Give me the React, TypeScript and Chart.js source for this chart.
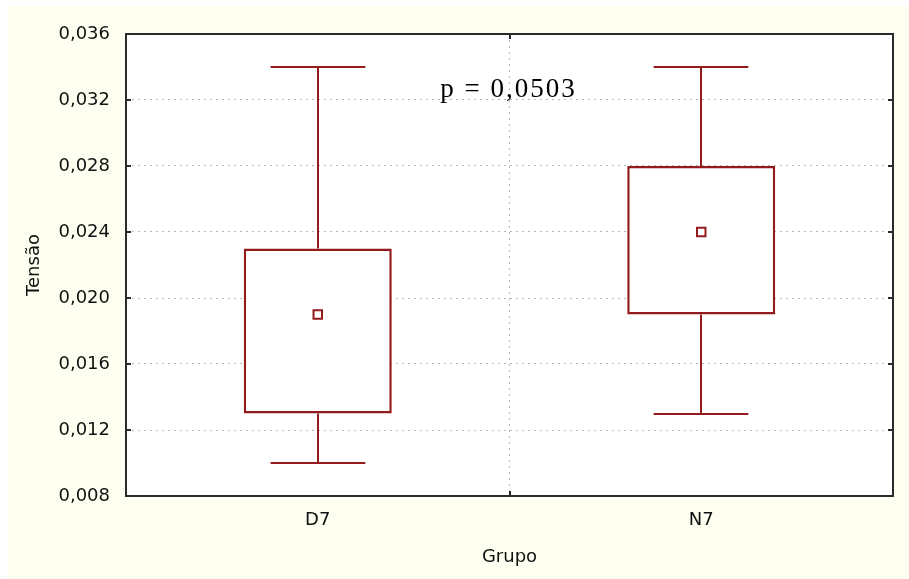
import React, { useEffect, useRef } from "react";
import { Chart, registerables } from "chart.js";

Chart.register(...registerables);

const categories = ["D7", "N7"];
const whiskerMin = [0.010, 0.013];
const boxLow = [0.013, 0.019];
const boxHigh = [0.023, 0.028];
const whiskerMax = [0.034, 0.034];
const means = [0.019, 0.024];
const yTicks = [0.008, 0.012, 0.016, 0.020, 0.024, 0.028, 0.032, 0.036];
const annotationText = "p = 0,0503";
const annotationY = 0.0322;

const RED = "#931a1d";

const boxPlugin = {
  id: "boxPlugin",
  beforeDraw(chart: any) {
    const { ctx, chartArea: a } = chart;
    ctx.save();
    ctx.fillStyle = "#fffff1";
    ctx.fillRect(0, 0, chart.width, chart.height);
    ctx.fillStyle = "#ffffff";
    ctx.fillRect(a.left, a.top, a.right - a.left, a.bottom - a.top);
    ctx.restore();
  },
  afterDatasetsDraw(chart: any) {
    const { ctx } = chart;
    const xs = chart.scales.x;
    const ys = chart.scales.y;
    const meta = chart.getDatasetMeta(0);
    ctx.save();
    ctx.strokeStyle = RED;
    ctx.lineWidth = 2;
    categories.forEach((_, i) => {
      const x = Math.round(xs.getPixelForValue(i));
      const half = (meta.data[i].width * 0.64) / 2;
      const yMax = Math.round(ys.getPixelForValue(whiskerMax[i]));
      const yHi = ys.getPixelForValue(boxHigh[i]);
      const yLo = ys.getPixelForValue(boxLow[i]);
      const yMin = Math.round(ys.getPixelForValue(whiskerMin[i]));
      ctx.beginPath();
      ctx.moveTo(x, yMax);
      ctx.lineTo(x, yHi);
      ctx.moveTo(x, yLo);
      ctx.lineTo(x, yMin);
      ctx.moveTo(x - half, yMax);
      ctx.lineTo(x + half, yMax);
      ctx.moveTo(x - half, yMin);
      ctx.lineTo(x + half, yMin);
      ctx.stroke();
    });
    ctx.restore();
  },
  afterDraw(chart: any) {
    const { ctx, chartArea: a } = chart;
    const ys = chart.scales.y;
    ctx.save();
    ctx.strokeStyle = "#2a2a2a";
    ctx.lineWidth = 2;
    ctx.strokeRect(a.left, a.top, a.right - a.left, a.bottom - a.top);
    ctx.beginPath();
    yTicks.forEach((v) => {
      const y = Math.round(ys.getPixelForValue(v));
      ctx.moveTo(a.left, y);
      ctx.lineTo(a.left + 5, y);
      ctx.moveTo(a.right, y);
      ctx.lineTo(a.right - 5, y);
    });
    const mid = Math.round((a.left + a.right) / 2);
    ctx.moveTo(mid, a.bottom);
    ctx.lineTo(mid, a.bottom - 5);
    ctx.moveTo(mid, a.top);
    ctx.lineTo(mid, a.top + 5);
    ctx.stroke();
    // annotation
    ctx.fillStyle = "#000";
    ctx.font = '27px "Liberation Serif", "Times New Roman", serif';
    ctx.textAlign = "center";
    ctx.textBaseline = "alphabetic";
    try { (ctx as any).letterSpacing = "2px"; } catch (e) {}
    ctx.fillText(annotationText, (a.left + a.right) / 2 - 1, ys.getPixelForValue(annotationY));
    ctx.restore();
  },
};

export default function App() {
  const ref = useRef<HTMLCanvasElement | null>(null);
  useEffect(() => {
    if (!ref.current) return;
    const font = { family: '"DejaVu Sans", Verdana, sans-serif', size: 18 };
    const chart = new Chart(ref.current, {
      type: "bar",
      data: {
        labels: categories,
        datasets: [
          {
            type: "bar",
            order: 2,
            data: categories.map((_, i) => [boxLow[i], boxHigh[i]]) as any,
            backgroundColor: "#ffffff",
            borderColor: RED,
            borderWidth: 2.5,
            borderSkipped: false,
            barPercentage: 0.386,
            categoryPercentage: 1,
          },
          {
            type: "line",
            order: 1,
            data: means,
            showLine: false,
            pointStyle: "rect",
            pointRadius: 6,
            pointBorderWidth: 2,
            pointBorderColor: RED,
            pointBackgroundColor: "#ffffff",
          } as any,
        ],
      },
      options: {
        animation: false,
        responsive: false,
        maintainAspectRatio: false,
        layout: { padding: { top: 28, right: 16, left: 0, bottom: 0 } },
        plugins: { legend: { display: false }, tooltip: { enabled: false } },
        scales: {
          x: {
            offset: true,
            grid: {
              offset: true,
              drawTicks: false,
              color: "#b8b8b8",
              lineWidth: 1,
            },
            border: { display: false, dash: [2, 4] },
            ticks: { color: "#111", font, padding: 14 },
            title: {
              display: true,
              text: "Grupo",
              color: "#111",
              font,
              padding: { top: 0, bottom: 11 },
            },
            afterFit(scale: any) {
              scale.height = 83;
            },
          },
          y: {
            min: 0.008,
            max: 0.036,
            afterBuildTicks(scale: any) {
              scale.ticks = yTicks.map((v) => ({ value: v }));
            },
            grid: { drawTicks: false, color: "#b8b8b8", lineWidth: 1 },
            border: { display: false, dash: [2, 4] },
            ticks: {
              color: "#111",
              font,
              padding: 16,
              callback: (v: any) => Number(v).toFixed(3).replace(".", ","),
            },
            title: {
              display: true,
              text: "Tensão",
              color: "#111",
              font,
              padding: { top: 16, bottom: 0 },
            },
            afterFit(scale: any) {
              scale.width = 118;
            },
          },
        },
      },
      plugins: [boxPlugin],
    });
    return () => chart.destroy();
  }, []);
  return (
    <canvas
      ref={ref}
      width={901}
      height={573}
      style={{ position: "absolute", left: 8, top: 6, width: 901, height: 573 }}
    />
  );
}
